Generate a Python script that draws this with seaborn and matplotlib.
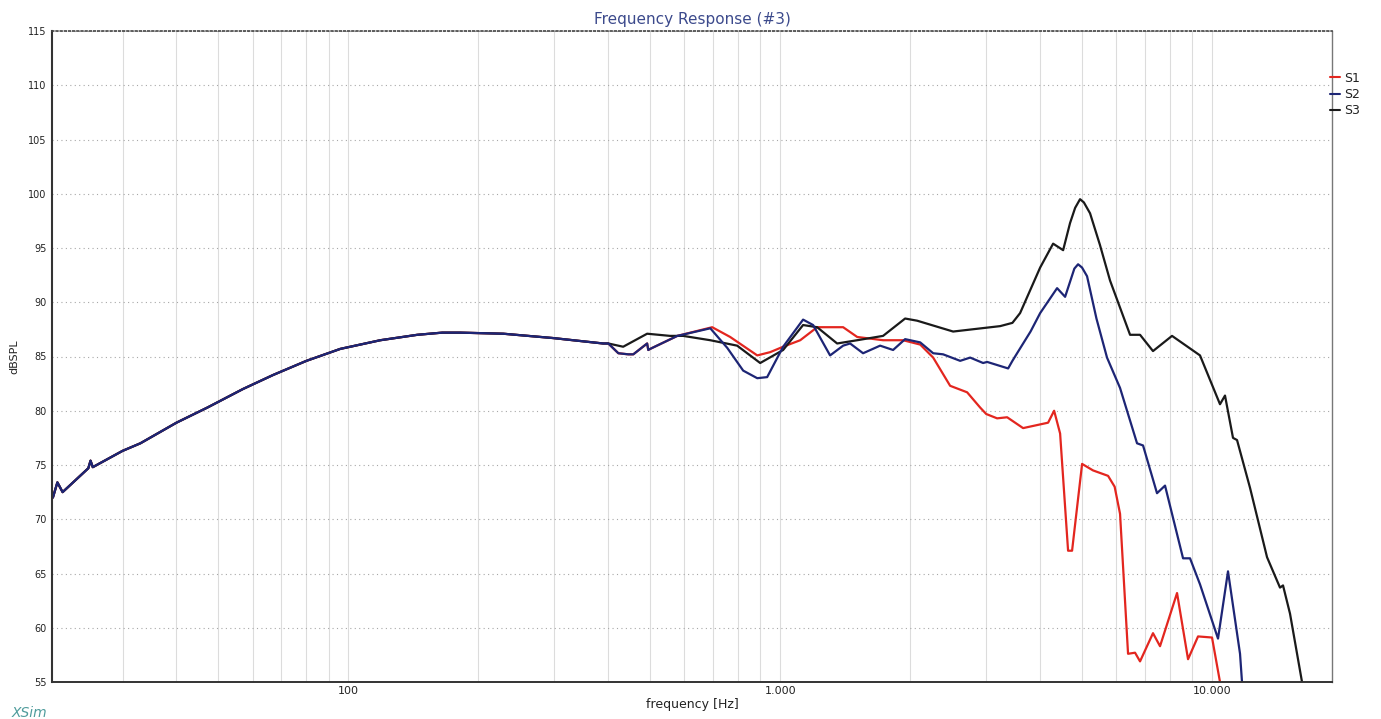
import numpy as np
import pandas as pd
import seaborn as sns
import matplotlib.pyplot as plt
from matplotlib.ticker import FixedLocator, FixedFormatter, NullFormatter
from matplotlib.lines import Line2D


# shared low-frequency part (all three curves overlap here)
low_freq = [20.7, 21.2, 21.8, 25.0, 25.3, 25.6, 30, 33, 40, 47.2, 57, 67, 80, 95.8,
            118.6, 144.5, 165, 181.5, 228.5, 298, 389, 400]
low_spl = [72.0, 73.4, 72.5, 74.7, 75.4, 74.8, 76.3, 77.0, 78.9, 80.3, 82.0, 83.3, 84.6, 85.7,
           86.5, 87.0, 87.2, 87.2, 87.1, 86.7, 86.2, 86.2]

s2_freq = [422, 445, 457, 492, 495, 500, 578, 689, 754, 821, 885, 933, 1016, 1130, 1192,
           1305, 1399, 1452, 1556, 1704, 1826, 1947, 2110, 2261, 2384, 2611, 2754, 2951,
           3015, 3372, 3450, 3537, 3800, 4000, 4378, 4569, 4800, 4896, 5000, 5136, 5400,
           5713, 6124, 6705, 6923, 7458, 7784, 8569, 8894, 9380, 10325, 10890, 11611,
           11734, 11850]
s2_spl = [85.3, 85.2, 85.2, 86.2, 85.6, 85.7, 86.9, 87.6, 85.8, 83.7, 83.0, 83.1, 85.9, 88.4, 87.9,
          85.1, 86.0, 86.2, 85.3, 86.0, 85.6, 86.6, 86.3, 85.3, 85.2, 84.6, 84.9, 84.4,
          84.5, 83.9, 84.6, 85.3, 87.3, 89.0, 91.3, 90.5, 93.1, 93.5, 93.2, 92.4, 88.5,
          84.9, 82.1, 77.0, 76.8, 72.4, 73.1, 66.4, 66.4, 64.0, 59.0, 65.2, 57.6,
          55.0, 53.5]

s1_freq = [422, 445, 457, 492, 495, 500, 578, 696, 766, 885, 948, 1016, 1113, 1218, 1399,
           1508, 1731, 1926, 2110, 2261, 2475, 2710, 2904, 3000, 3180, 3354, 3652, 4173,
           4309, 4449, 4642, 4742, 5002, 5303, 5745, 5950, 6124, 6391, 6634, 6813, 7300, 7579,
           8299, 8800, 9282, 10000, 10435, 10600]
s1_spl = [85.3, 85.2, 85.2, 86.2, 85.6, 85.7, 86.9, 87.7, 86.8, 85.1, 85.4, 85.9, 86.5, 87.7, 87.7,
          86.8, 86.5, 86.5, 86.1, 84.9, 82.3, 81.7, 80.3, 79.7, 79.3, 79.4, 78.4, 78.9,
          80.0, 77.9, 67.1, 67.1, 75.1, 74.5, 74.0, 73.0, 70.5, 57.6, 57.7, 56.9, 59.5, 58.3,
          63.2, 57.1, 59.2, 59.1, 55.0, 53.5]

s3_freq = [433, 492, 556, 596, 689, 795, 899, 1016, 1130, 1218, 1355, 1508, 1731, 1947,
           2076, 2515, 3232, 3450, 3594, 3850, 4000, 4286, 4521, 4691, 4820, 4948, 5050,
           5219, 5500, 5806, 6460, 6813, 7300, 8080, 9380, 10435, 10717, 11184, 11427,
           12246, 13410, 14369, 14602, 15157, 16159, 16400]
s3_spl = [85.9, 87.1, 86.9, 86.9, 86.5, 86.0, 84.4, 85.6, 87.9, 87.7, 86.2, 86.5, 86.9, 88.5,
          88.3, 87.3, 87.8, 88.1, 89.0, 91.7, 93.2, 95.4, 94.8, 97.3, 98.7, 99.5, 99.2,
          98.2, 95.3, 92.0, 87.0, 87.0, 85.5, 86.9, 85.1, 80.6, 81.4, 77.5, 77.3,
          72.9, 66.5, 63.7, 63.9, 61.3, 55.0, 53.5]

series_names = ["S1", "S2", "S3"]
series_colors = {"S1": "#e3261f", "S2": "#1d2575", "S3": "#1a1a1a"}

y_ticks = list(range(55, 116, 5))
x_major = [100, 1000, 10000]
x_major_labels = ["100", "1.000", "10.000"]


def make_frame(freq, spl, name):
    return pd.DataFrame({"frequency": low_freq + freq, "dBSPL": low_spl + spl, "series": name})


frames = {
    "S1": make_frame(s1_freq, s1_spl, "S1"),
    "S2": make_frame(s2_freq, s2_spl, "S2"),
    "S3": make_frame(s3_freq, s3_spl, "S3"),
}

sns.set_style("white")
plt.rcParams["font.family"] = ["DejaVu Sans"]

fig = plt.figure(figsize=(13.81, 7.19), dpi=100)
ax = fig.add_axes([52 / 1381, 1 - 682 / 719, (1332 - 52) / 1381, (682 - 31) / 719])

# draw red first, black next, blue on top
for name in ["S1", "S3", "S2"]:
    sns.lineplot(data=frames[name], x="frequency", y="dBSPL", color=series_colors[name],
                 linewidth=1.6, sort=False, estimator=None, ax=ax, legend=False)

ax.set_xscale("log")
ax.set_xlim(20.6, 18960)
ax.set_ylim(55, 115)

ax.xaxis.set_major_locator(FixedLocator(x_major))
ax.xaxis.set_major_formatter(FixedFormatter(x_major_labels))
minor = [m * d for d in (10, 100, 1000) for m in range(2, 10)]
ax.xaxis.set_minor_locator(FixedLocator(minor))
ax.xaxis.set_minor_formatter(NullFormatter())
ax.set_yticks(y_ticks)
ax.set_yticklabels([str(t) for t in y_ticks])

ax.grid(True, which="both", axis="x", color="#dcdcdc", linewidth=0.8, linestyle="-")
ax.grid(True, which="major", axis="y", color="#a8a8a8", linewidth=0.8, linestyle=(0, (1, 3)))
ax.set_axisbelow(True)

ax.tick_params(axis="y", which="major", labelsize=7, length=2, width=0.8, pad=2, colors="#222222")
ax.tick_params(axis="x", which="major", labelsize=8, length=0, pad=3, colors="#222222")
ax.tick_params(axis="x", which="minor", length=0)

ax.spines["left"].set_color("#333333")
ax.spines["left"].set_linewidth(1.5)
ax.spines["right"].set_color("#777777")
ax.spines["right"].set_linewidth(1.0)
ax.spines["top"].set_color("#444444")
ax.spines["top"].set_linestyle((0, (1, 1.5)))
ax.spines["top"].set_linewidth(1.2)
ax.spines["bottom"].set_color("#333333")
ax.spines["bottom"].set_linestyle((0, (2, 1)))
ax.spines["bottom"].set_linewidth(1.4)

ax.set_xlabel("frequency [Hz]", fontsize=9, labelpad=1, color="#222222")
ax.set_ylabel("dBSPL", fontsize=8, labelpad=6, color="#222222")
ax.set_title("Frequency Response (#3)", fontsize=11, color="#3c4a8c", pad=5)

handles = [Line2D([], [], color=series_colors[n], linewidth=1.5) for n in series_names]
leg = ax.legend(handles, series_names, loc="upper left", bbox_to_anchor=(0.9945, 0.945),
                frameon=False, handlelength=0.8, handletextpad=0.3, labelspacing=0.25,
                fontsize=9, borderaxespad=0)
for t in leg.get_texts():
    t.set_color("#222222")

fig.text(12 / 1381, 1 - 713 / 719, "XSim", fontsize=10, style="italic", color="#4f9c9c",
         va="center", ha="left")

fig.savefig("out.png", dpi=100)
